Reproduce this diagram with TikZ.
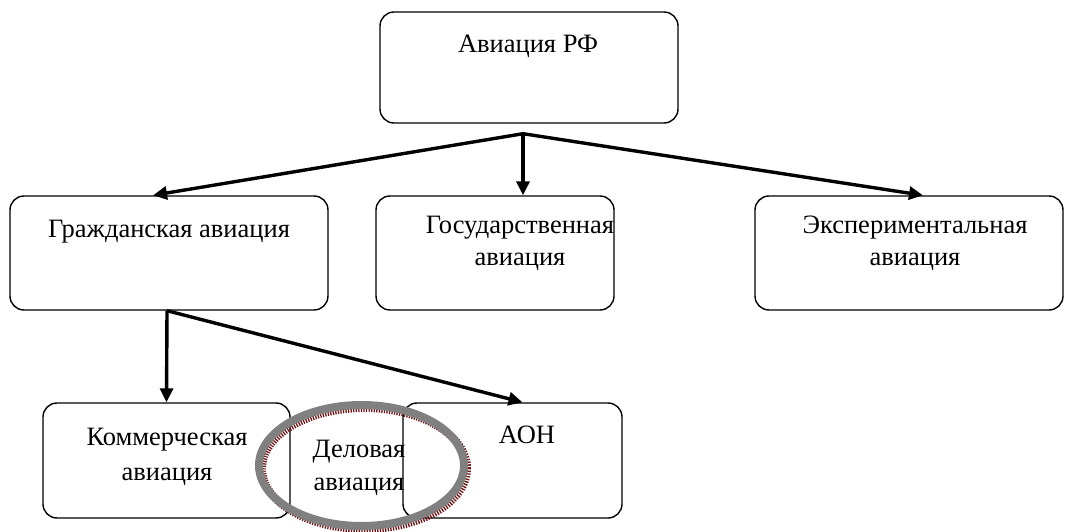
\documentclass[tikz,border=0pt]{standalone}
\usepackage{fontspec}
\setmainfont{Liberation Serif}
\usetikzlibrary{arrows.meta,shapes.geometric}
\definecolor{ringgray}{RGB}{128,128,128}
\definecolor{ringred}{RGB}{110,20,20}
\tikzset{
  box/.style={draw=black, line width=1.4pt, rounded corners=14pt, inner sep=0pt},
  lbl/.style={font=\fontsize{26.5}{32}\selectfont, align=center, inner sep=0pt, anchor=base},
  conn/.style={line width=3.4pt, -{Triangle[length=14pt,width=13pt]}},
  ringstyle/.style={line width=8pt, ellipse, minimum width=205pt, minimum height=121pt, inner sep=0pt},
}
\begin{document}
\begin{tikzpicture}[x=1pt,y=-1pt]
\useasboundingbox (0,0) rectangle (1066,532);
% boxes
\node[box, minimum width=298pt, minimum height=111pt] (rf)  at (529,67.5) {};
\node[box, minimum width=318pt, minimum height=114pt] (gr)  at (169,253) {};
\node[box, minimum width=238pt, minimum height=114pt] (gos) at (495,253) {};
\node[box, minimum width=308pt, minimum height=114pt] (exp) at (909,253) {};
\node[box, minimum width=247pt, minimum height=115pt] (kom) at (166.5,460.5) {};
\node[box, minimum width=219pt, minimum height=115pt] (aon) at (512.5,460.5) {};
% labels (anchor = baseline of the last line)
\node[lbl] (trf)  at (528,53)  {Авиация РФ};
\node[lbl] (tgr)  at (169,237) {Гражданская авиация};
\node[lbl] (tgos) at (520,265) {Государственная\\авиация};
\node[lbl] (texp) at (915,265) {Экспериментальная\\авиация};
\node[lbl, font=\fontsize{26.5}{35}\selectfont] (tkom) at (167,480) {Коммерческая\\авиация};
\node[lbl] (taon) at (527,443) {АОН};
% junctions
\coordinate (j1) at ([xshift=-6pt,yshift=-10pt]rf.south);
\coordinate (j2) at ([xshift=-2pt]gr.south);
% connectors
\draw[conn] (j1) -- ([xshift=-16pt]gr.north);
\draw[conn] (j1) -- ([xshift=28pt]gos.north);
\draw[conn] (j1) -- ([xshift=14pt]exp.north);
\draw[conn] (j2) -- (kom.north);
\draw[conn] (j2) -- ([xshift=10pt]aon.north);
% ring
\node[ringstyle, draw=ringred, dash pattern=on 1.3pt off 1.3pt] (ringsh) at (364.5,468.5) {};
\node[ringstyle, draw=ringgray] (ring) at (361.5,465.5) {};
\node[lbl, font=\fontsize{26.5}{33}\selectfont] (tdel) at (359,490) {Деловая\\авиация};
\end{tikzpicture}
\end{document}
